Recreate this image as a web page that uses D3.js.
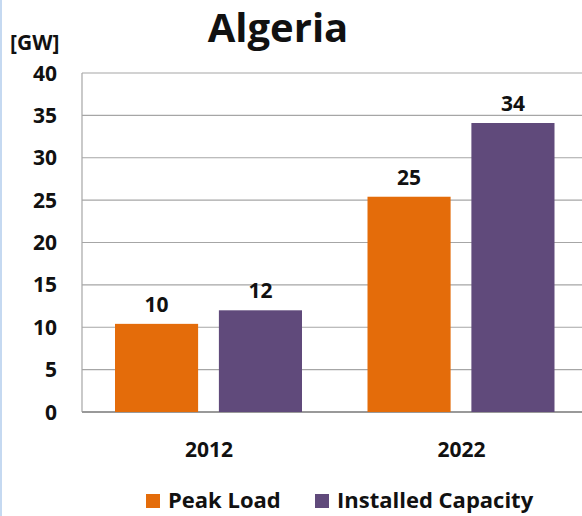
<!DOCTYPE html>
<html>
<head>
<meta charset="utf-8">
<script src="https://cdn.jsdelivr.net/npm/d3@7"></script>
<style>
  body { margin: 0; background: #fff; }
  text { font-family: "Open Sans", Lato, sans-serif; font-weight: bold; fill: #111; }
</style>
</head>
<body>
<div class="chart"></div>
<script>
const years = ['2012', '2022']
const seriesNames = ['Peak Load', 'Installed Capacity']
const peakLoad = [10.4, 25.4]
const installedCapacity = [12.0, 34.1]
const valueLabels = [['10', '12'], ['25', '34']]
const yTicks = [0, 5, 10, 15, 20, 25, 30, 35, 40]
const colors = ['#E46C0A', '#604A7B']

const data = years.map((y, i) => ({
    year: y,
    values: [peakLoad[i], installedCapacity[i]],
    labels: valueLabels[i]
}))

const W = 582, H = 516
const margin = { top: 73, left: 82 }
const width = 505
const height = 339

const svg = d3.select('.chart')
    .append('svg')
    .attr('width', W)
    .attr('height', H)

// left border strip
svg.append('rect')
    .attr('x', 0).attr('y', 0)
    .attr('width', 2).attr('height', H)
    .style('fill', '#c5d9f1')

const g = svg.append('g')
    .attr('transform', `translate(${margin.left}, ${margin.top})`)

// Scales.
const yScale = d3.scaleLinear().domain([0, 40]).range([height, 0])
const xScale = d3.scaleBand().domain(years).range([0, width]).paddingInner(0).paddingOuter(0)
const xInner = d3.scaleBand().domain(seriesNames).range([33, 220]).paddingInner(0.2)

// Grid.
g.selectAll('.grid')
    .data(yTicks.filter(d => d > 0))
    .enter()
    .append('line')
    .attr('x1', 0).attr('x2', width)
    .attr('y1', d => yScale(d)).attr('y2', d => yScale(d))
    .style('stroke', '#a6a6a6')
    .style('stroke-width', 1.2)

// Axis lines.
g.append('line')
    .attr('x1', 0).attr('x2', 0).attr('y1', 0).attr('y2', height)
    .style('stroke', '#a6a6a6').style('stroke-width', 1.2)
g.append('line')
    .attr('x1', 0).attr('x2', width).attr('y1', height).attr('y2', height)
    .style('stroke', '#999').style('stroke-width', 2)

// Y tick labels.
g.selectAll('.ytick')
    .data(yTicks)
    .enter()
    .append('text')
    .attr('x', -25)
    .attr('y', d => yScale(d))
    .attr('dy', '0.36em')
    .attr('text-anchor', 'end')
    .style('font-size', '21px')
    .text(d => d)

// Bars.
const groups = g.selectAll('.group')
    .data(data)
    .enter()
    .append('g')
    .attr('transform', d => `translate(${xScale(d.year)}, 0)`)

groups.selectAll('rect')
    .data(d => d.values.map((v, i) => ({ name: seriesNames[i], value: v, label: d.labels[i], color: colors[i] })))
    .enter()
    .append('rect')
    .attr('x', d => xInner(d.name))
    .attr('y', d => yScale(d.value))
    .attr('width', xInner.bandwidth())
    .attr('height', d => height - yScale(d.value))
    .style('fill', d => d.color)

groups.selectAll('.vlabel')
    .data(d => d.values.map((v, i) => ({ name: seriesNames[i], value: v, label: d.labels[i] })))
    .enter()
    .append('text')
    .attr('x', d => xInner(d.name) + xInner.bandwidth() / 2)
    .attr('y', d => yScale(d.value) - 12)
    .attr('text-anchor', 'middle')
    .style('font-size', '21px')
    .text(d => d.label)

// Category labels.
g.selectAll('.xlabel')
    .data(years)
    .enter()
    .append('text')
    .attr('x', d => xScale(d) + 127)
    .attr('y', height + 45)
    .attr('text-anchor', 'middle')
    .style('font-size', '21px')
    .text(d => d)

// Title and unit.
svg.append('text')
    .attr('x', 278).attr('y', 42)
    .attr('text-anchor', 'middle')
    .style('font-size', '40px')
    .text('Algeria')

svg.append('text')
    .attr('x', 10).attr('y', 50)
    .style('font-size', '21px')
    .text('[GW]')

// Legend.
const legendX = [146, 315]
const legend = svg.selectAll('.legend')
    .data(seriesNames)
    .enter()
    .append('g')
    .attr('transform', (d, i) => `translate(${legendX[i]}, 494)`)

legend.append('rect')
    .attr('width', 14).attr('height', 14)
    .style('fill', (d, i) => colors[i])

legend.append('text')
    .attr('x', 22).attr('y', 14)
    .style('font-size', '22px')
    .text(d => d)
</script>
</body>
</html>
